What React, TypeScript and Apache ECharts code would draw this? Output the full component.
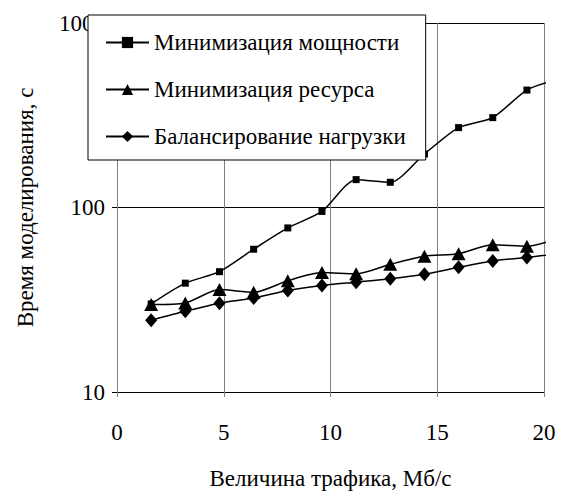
import React, { useEffect, useRef } from "react";
import * as echarts from "echarts";

const xValues = [1.6, 3.2, 4.8, 6.4, 8.0, 9.6, 11.2, 12.8, 14.4, 16.0, 17.6, 19.2, 20.8];
const powerMin = [30, 38.9, 44.9, 59.4, 77.5, 95.2, 141.6, 137, 195, 271, 307, 433, 500];
const resourceMin = [29.8, 30.4, 35.9, 34.7, 40.1, 44.4, 43.7, 49.2, 54.5, 56.2, 62.8, 61.6, 69];
const loadBalance = [24.5, 27.4, 30.3, 32.3, 35.5, 37.8, 39.4, 41.1, 43.5, 47.4, 51.3, 53.6, 56.5];
const seriesNames = ["Минимизация мощности", "Минимизация ресурса", "Балансирование нагрузки"];
const xAxisName = "Величина трафика, Мб/с";
const yAxisName = "Время моделирования, с";

const FONT = "Liberation Serif";
const FS = 23;

export default function App() {
  const ref = useRef<HTMLDivElement>(null);
  useEffect(() => {
    if (!ref.current) return;
    const chart = echarts.init(ref.current, undefined, { renderer: "svg" });
    const pairs = (vals: number[]) => vals.map((v, i) => [xValues[i], v]);
    const lineCommon = {
      type: "line",
      smooth: 0.25,
      clip: true,
      lineStyle: { color: "#000", width: 1.5 },
      itemStyle: { color: "#000" },
      showAllSymbol: true,
    };
    chart.setOption({
      animation: false,
      backgroundColor: "#fff",
      textStyle: { fontFamily: FONT },
      grid: { left: 117, right: 23, top: 23, bottom: 98 },
      legend: {
        orient: "vertical",
        left: 88,
        top: 15,
        backgroundColor: "#fff",
        borderColor: "#000",
        borderWidth: 1,
        padding: [16, 20, 12, 17],
        itemGap: 24,
        itemWidth: 43,
        itemHeight: 14,
        textStyle: { fontFamily: FONT, fontSize: FS, color: "#000" },
        data: seriesNames,
      },
      xAxis: {
        type: "value",
        min: 0,
        max: 20,
        interval: 5,
        name: xAxisName,
        nameLocation: "middle",
        nameGap: 75,
        nameTextStyle: { fontFamily: FONT, fontSize: FS, color: "#000" },
        axisLine: { show: true, lineStyle: { color: "#000", width: 1 } },
        axisTick: { show: true, length: 5, lineStyle: { color: "#808080" } },
        axisLabel: { margin: 29, fontFamily: FONT, fontSize: FS, color: "#000" },
        splitLine: { show: true, lineStyle: { color: "#808080", width: 1 } },
      },
      yAxis: {
        type: "log",
        logBase: 10,
        min: 10,
        max: 1000,
        name: yAxisName,
        nameLocation: "middle",
        nameGap: 80,
        nameTextStyle: { fontFamily: FONT, fontSize: FS, color: "#000" },
        axisLine: { show: true, lineStyle: { color: "#808080", width: 1 } },
        axisTick: { show: true, length: 5, lineStyle: { color: "#000" } },
        axisLabel: {
          margin: 12,
          fontFamily: FONT,
          fontSize: FS,
          color: "#000",
          formatter: (v: number) => String(Math.round(v)),
        },
        splitLine: { show: true, lineStyle: { color: "#000", width: 1 } },
      },
      series: [
        { ...lineCommon, name: seriesNames[0], symbol: "rect", symbolSize: 7, data: pairs(powerMin) },
        { ...lineCommon, name: seriesNames[1], symbol: "triangle", symbolSize: [14, 13], data: pairs(resourceMin) },
        { ...lineCommon, name: seriesNames[2], symbol: "diamond", symbolSize: [12, 14], data: pairs(loadBalance) },
      ],
    });
    return () => chart.dispose();
  }, []);
  return (
    <div
      ref={ref}
      style={{ position: "fixed", left: 0, top: 0, width: 567, height: 495 }}
    />
  );
}
